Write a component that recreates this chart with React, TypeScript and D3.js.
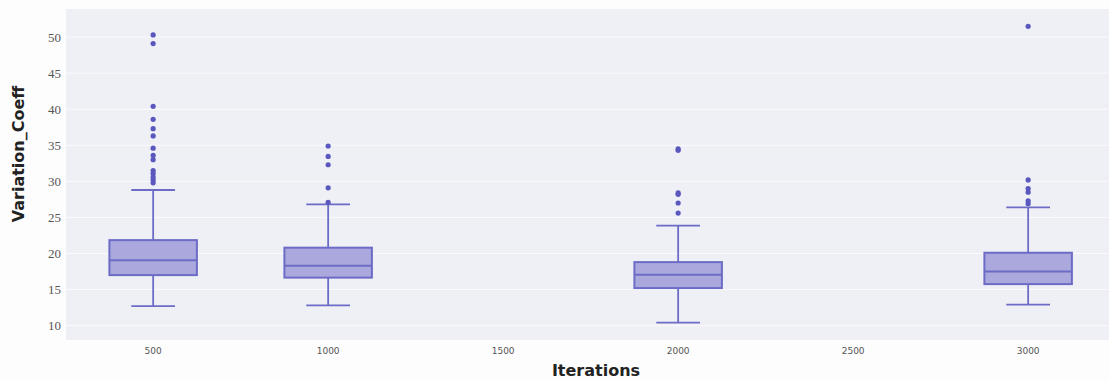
import React, { useEffect, useRef } from "react";
import * as d3 from "d3";

// one box per iteration count
const iterations = [500, 1000, 2000, 3000];
const lowerFence = [12.7, 12.8, 10.4, 12.9];
const q1 = [17.0, 16.65, 15.2, 15.75];
const median = [19.05, 18.3, 17.05, 17.5];
const q3 = [21.85, 20.8, 18.8, 20.1];
const upperFence = [28.8, 26.8, 23.85, 26.4];
const outliers = [
  [50.3, 49.1, 40.4, 38.6, 37.3, 36.3, 34.6, 33.6, 33.0, 31.5, 31.1, 30.6, 30.2, 29.8],
  [34.9, 33.45, 32.3, 29.1, 27.1],
  [34.5, 34.3, 28.4, 28.2, 27.0, 25.6],
  [51.5, 30.2, 29.0, 28.5, 27.3, 26.9],
];
const xTicks = [500, 1000, 1500, 2000, 2500, 3000];
const yTicks = [10, 15, 20, 25, 30, 35, 40, 45, 50];

const W = 1109;
const H = 381;
const M = { left: 66, right: 0, top: 9, bottom: 41 };

export default function App() {
  const ref = useRef<SVGSVGElement>(null);

  useEffect(() => {
    const svg = d3.select(ref.current);
    svg.selectAll("*").remove();

    const x = d3.scaleLinear().domain([251, 3231]).range([M.left, W - M.right]);
    const y = d3.scaleLinear().domain([8.0, 53.9]).range([H - M.bottom, M.top]);

    svg.append("rect").attr("width", W).attr("height", H).attr("fill", "#fdfdfd");
    svg
      .append("rect")
      .attr("x", M.left)
      .attr("y", M.top)
      .attr("width", W - M.left - M.right)
      .attr("height", H - M.top - M.bottom)
      .attr("fill", "#eef0f6");

    // gridlines
    svg
      .append("g")
      .selectAll("line")
      .data(yTicks)
      .join("line")
      .attr("x1", M.left)
      .attr("x2", W - M.right)
      .attr("y1", d => y(d))
      .attr("y2", d => y(d))
      .attr("stroke", "#fbfbfd")
      .attr("stroke-width", 1);

    // y tick labels
    svg
      .append("g")
      .selectAll("text")
      .data(yTicks)
      .join("text")
      .attr("x", M.left - 5)
      .attr("y", d => y(d))
      .attr("dy", "0.35em")
      .attr("text-anchor", "end")
      .attr("font-family", "Liberation Serif, serif")
      .attr("font-size", 13)
      .attr("fill", "#555")
      .text(d => d);

    // x tick labels
    svg
      .append("g")
      .selectAll("text")
      .data(xTicks)
      .join("text")
      .attr("x", d => x(d))
      .attr("y", H - M.bottom + 14)
      .attr("text-anchor", "middle")
      .attr("font-family", "DejaVu Sans, sans-serif")
      .attr("font-size", 9)
      .attr("fill", "#555")
      .text(d => d);

    svg
      .append("text")
      .attr("x", 596)
      .attr("y", 376)
      .attr("text-anchor", "middle")
      .attr("font-family", "DejaVu Sans, sans-serif")
      .attr("font-weight", "bold")
      .attr("font-size", 16)
      .attr("fill", "#222")
      .text("Iterations");

    svg
      .append("text")
      .attr("transform", "translate(24,154) rotate(-90)")
      .attr("text-anchor", "middle")
      .attr("font-family", "DejaVu Sans, sans-serif")
      .attr("font-weight", "bold")
      .attr("font-size", 16)
      .attr("fill", "#222")
      .text("Variation_Coeff");

    const stroke = "#6c6cc6";
    const fill = "#aaa8dd";
    const half = x(625) - x(500);

    const g = svg.append("g");
    iterations.forEach((it, i) => {
      const cx = x(it);
      const bg = g.append("g");
      // whiskers
      bg.append("line")
        .attr("x1", cx).attr("x2", cx)
        .attr("y1", y(upperFence[i])).attr("y2", y(q3[i]))
        .attr("stroke", stroke).attr("stroke-width", 1.8);
      bg.append("line")
        .attr("x1", cx).attr("x2", cx)
        .attr("y1", y(q1[i])).attr("y2", y(lowerFence[i]))
        .attr("stroke", stroke).attr("stroke-width", 1.8);
      [upperFence[i], lowerFence[i]].forEach(v => {
        bg.append("line")
          .attr("x1", cx - half / 2).attr("x2", cx + half / 2)
          .attr("y1", y(v)).attr("y2", y(v))
          .attr("stroke", stroke).attr("stroke-width", 1.8);
      });
      bg.append("rect")
        .attr("x", cx - half)
        .attr("y", y(q3[i]))
        .attr("width", half * 2)
        .attr("height", y(q1[i]) - y(q3[i]))
        .attr("fill", fill)
        .attr("stroke", stroke)
        .attr("stroke-width", 2);
      bg.append("line")
        .attr("x1", cx - half).attr("x2", cx + half)
        .attr("y1", y(median[i])).attr("y2", y(median[i]))
        .attr("stroke", stroke).attr("stroke-width", 2);
      bg.selectAll("circle")
        .data(outliers[i])
        .join("circle")
        .attr("cx", cx)
        .attr("cy", d => y(d))
        .attr("r", 2.6)
        .attr("fill", "#5a58bf");
    });
  }, []);

  return (
    <svg
      ref={ref}
      width={W}
      height={H}
      style={{ position: "absolute", left: 0, top: 0, display: "block" }}
    />
  );
}
